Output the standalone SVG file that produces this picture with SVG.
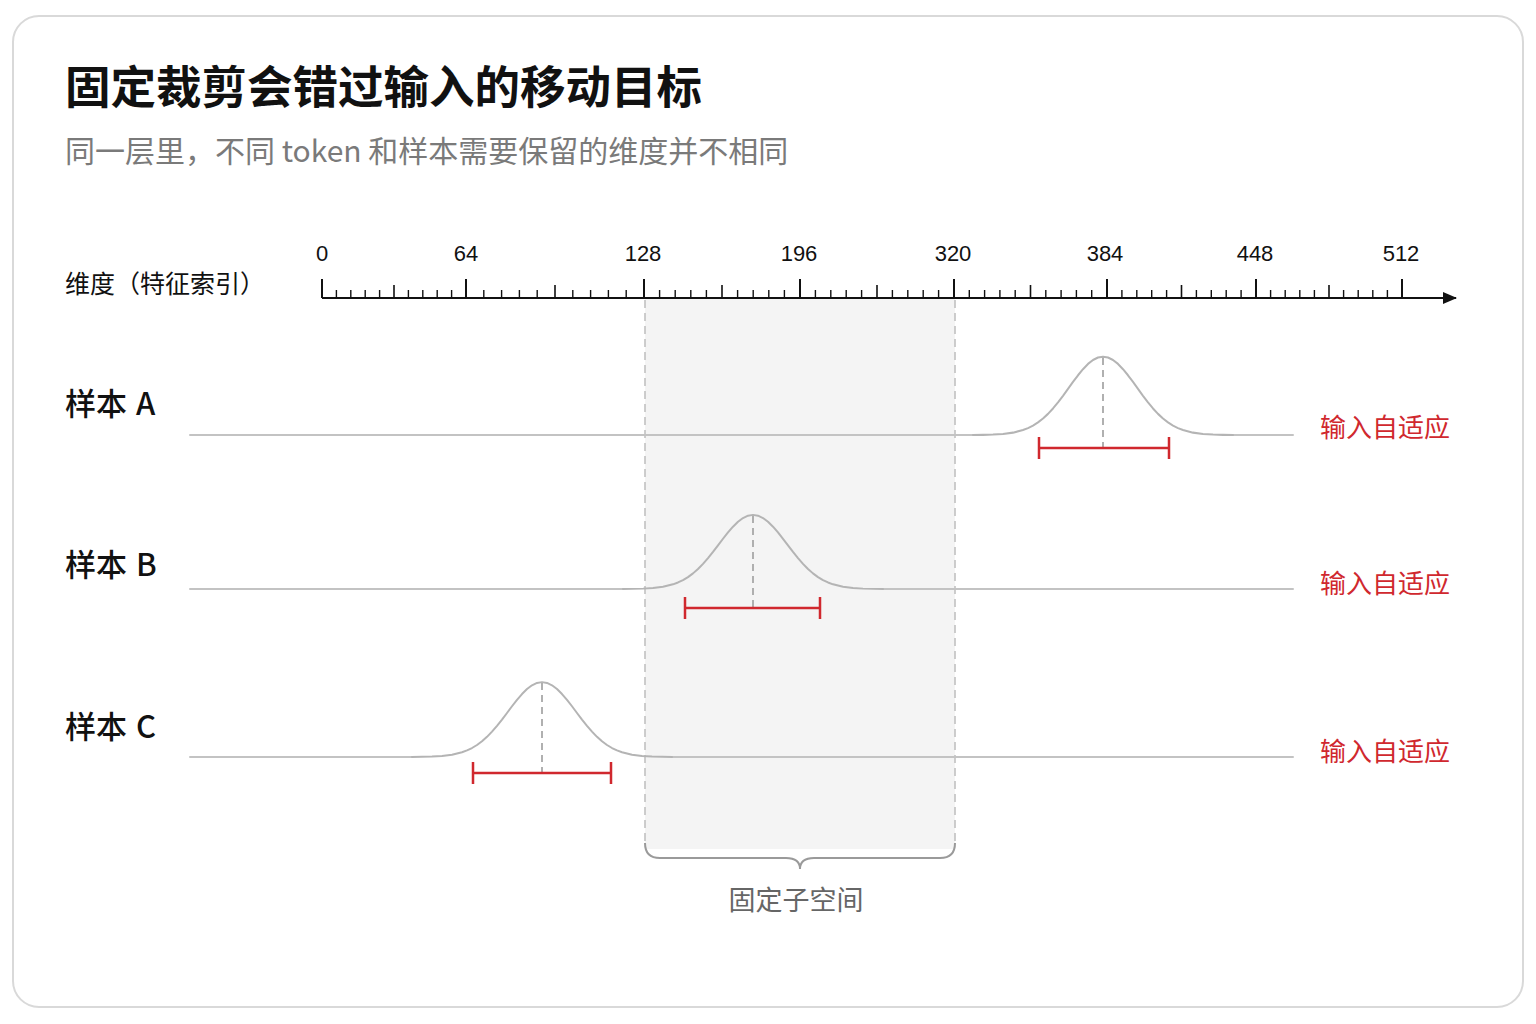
<svg xmlns="http://www.w3.org/2000/svg" xmlns:xlink="http://www.w3.org/1999/xlink" width="1536" height="1024" viewBox="0 0 1536 1024">
<style>
  .cjk { font-family: "Noto Sans CJK SC", "Noto Sans", sans-serif; }
  .num { font-family: "Liberation Sans", "Noto Sans", sans-serif; font-size: 22px; fill: #111; text-anchor: middle; }
  .title { font-size: 45.5px; font-weight: 700; fill: #111; }
  .sub { font-size: 30px; fill: #7a7a7a; }
  .lab { font-size: 31px; font-weight: 500; fill: #111; }
  .red { font-size: 26px; fill: #d0282e; }
  .base { fill: none; stroke: #c3c3c3; stroke-width: 2; stroke-linecap: round; stroke-linejoin: round; }
  .bump { fill: none; stroke: #b4b4b4; stroke-width: 2; stroke-linecap: round; stroke-linejoin: round; }
  .center { stroke: #a8a8a8; stroke-width: 1.8; stroke-dasharray: 7 5; }
  .bar { fill: none; stroke: #d0282e; stroke-width: 2.5; }
  .edge { stroke: #bdbdbd; stroke-width: 1.5; stroke-dasharray: 8 5; }
  .tick { stroke: #111; fill: none; }
</style>
<defs>
  <marker id="arrow" viewBox="0 0 14 12" refX="13" refY="6" markerWidth="14" markerHeight="12" markerUnits="userSpaceOnUse" orient="auto">
    <path d="M0,0 L14,6 L0,12 Z" fill="#111"/>
  </marker>
  <path id="g" d="M-130,0 L-120,-0.15 L-110,-0.4 L-100,-1 L-90,-2.3 L-80,-4.8 L-75,-6.7 L-70,-9.1 L-65,-12.2 L-60,-16 L-55,-20.5 L-50,-25.8 L-45,-31.7 L-40,-38 L-35,-44.7 L-30,-51.5 L-25,-58 L-20,-63.9 L-15,-69 L-10,-72.8 L-5,-75.2 L0,-76 L5,-75.2 L10,-72.8 L15,-69 L20,-63.9 L25,-58 L30,-51.5 L35,-44.7 L40,-38 L45,-31.7 L50,-25.8 L55,-20.5 L60,-16 L65,-12.2 L70,-9.1 L75,-6.7 L80,-4.8 L90,-2.3 L100,-1 L110,-0.4 L120,-0.15 L130,0"/>
</defs>

<rect x="0" y="0" width="1536" height="1024" fill="#ffffff"/>
<rect x="13" y="16" width="1510" height="991" rx="26" fill="#ffffff" stroke="#d9d9d9" stroke-width="2"/>

<g id="header">
  <text class="cjk title" x="65" y="104">固定裁剪会错过输入的移动目标</text>
  <text class="cjk sub" x="65" y="162">同一层里，不同 token 和样本需要保留的维度并不相同</text>
</g>

<g id="fixed-subspace">
  <rect x="645" y="298" width="310" height="551" fill="#f4f4f4"/>
  <line class="edge" x1="645" y1="300" x2="645" y2="845"/>
  <line class="edge" x1="955" y1="300" x2="955" y2="845"/>
  <path d="M645,843 Q645,858 660,858 H786 Q800,858 800,869 Q800,858 814,858 H940 Q955,858 955,843" fill="none" stroke="#9a9a9a" stroke-width="2"/>
  <text class="cjk" x="796" y="910" font-size="27" fill="#666" text-anchor="middle">固定子空间</text>
</g>

<g id="axis">
  <text class="cjk" x="65" y="293" font-size="25" fill="#111">维度（特征索引）</text>
  <line x1="322" y1="298" x2="1456" y2="298" stroke="#111" stroke-width="2" marker-end="url(#arrow)"/>
  <path class="tick" stroke-width="2" d="M322,279V298 M466,279V298 M644,279V298 M800,279V298 M954,279V298 M1107,279V298 M1256,279V298 M1402,279V298"/>
  <path class="tick" stroke-width="1.6" d="M394,285V298 M555,285V298 M722,285V298 M877,285V298 M1030.5,285V298 M1181.5,285V298 M1329,285V298"/>
  <path class="tick" stroke-width="1.4" d="M336.4,290V298 M350.8,290V298 M365.2,290V298 M379.6,290V298 M408.4,290V298 M422.8,290V298 M437.2,290V298 M451.6,290V298
    M483.8,290V298 M501.6,290V298 M519.4,290V298 M537.2,290V298 M572.8,290V298 M590.6,290V298 M608.4,290V298 M626.2,290V298
    M659.6,290V298 M675.2,290V298 M690.8,290V298 M706.4,290V298 M737.6,290V298 M753.2,290V298 M768.8,290V298 M784.4,290V298
    M815.4,290V298 M830.8,290V298 M846.2,290V298 M861.6,290V298 M892.4,290V298 M907.8,290V298 M923.2,290V298 M938.6,290V298
    M969.3,290V298 M984.6,290V298 M999.9,290V298 M1015.2,290V298 M1045.8,290V298 M1061.1,290V298 M1076.4,290V298 M1091.7,290V298
    M1121.9,290V298 M1136.8,290V298 M1151.7,290V298 M1166.6,290V298 M1196.4,290V298 M1211.3,290V298 M1226.2,290V298 M1241.1,290V298
    M1270.6,290V298 M1285.2,290V298 M1299.8,290V298 M1314.4,290V298 M1343.6,290V298 M1358.2,290V298 M1372.8,290V298 M1387.4,290V298"/>
  <text class="num" x="322" y="261">0</text>
  <text class="num" x="466" y="261">64</text>
  <text class="num" x="643" y="261">128</text>
  <text class="num" x="799" y="261">196</text>
  <text class="num" x="953" y="261">320</text>
  <text class="num" x="1105" y="261">384</text>
  <text class="num" x="1255" y="261">448</text>
  <text class="num" x="1401" y="261">512</text>
</g>

<g id="sample-a">
  <text class="cjk lab" x="65" y="415" word-spacing="2">样本 A</text>
  <line class="base" x1="190" y1="435" x2="973" y2="435"/>
  <line class="base" x1="1233" y1="435" x2="1293" y2="435"/>
  <use xlink:href="#g" href="#g" class="bump" transform="translate(1103,435) scale(1,1.03)"/>
  <line class="center" x1="1103" y1="358" x2="1103" y2="447"/>
  <path class="bar" d="M1039,437V459 M1039,448H1169 M1169,437V459"/>
  <text class="cjk red" x="1320" y="437">输入自适应</text>
</g>

<g id="sample-b">
  <text class="cjk lab" x="65" y="576" word-spacing="2">样本 B</text>
  <line class="base" x1="190" y1="589" x2="623" y2="589"/>
  <line class="base" x1="883" y1="589" x2="1293" y2="589"/>
  <use xlink:href="#g" href="#g" class="bump" transform="translate(753,589) scale(1,0.975)"/>
  <line class="center" x1="753" y1="516" x2="753" y2="607"/>
  <path class="bar" d="M685,597V619 M685,608H820 M820,597V619"/>
  <text class="cjk red" x="1320" y="593">输入自适应</text>
</g>

<g id="sample-c">
  <text class="cjk lab" x="65" y="738" word-spacing="2">样本 C</text>
  <line class="base" x1="190" y1="757" x2="412" y2="757"/>
  <line class="base" x1="672" y1="757" x2="1293" y2="757"/>
  <use xlink:href="#g" href="#g" class="bump" transform="translate(542,757) scale(1,0.985)"/>
  <line class="center" x1="542" y1="683" x2="542" y2="773"/>
  <path class="bar" d="M473,762V784 M473,773H611 M611,762V784"/>
  <text class="cjk red" x="1320" y="761">输入自适应</text>
</g>

<g id="connectors"></g>
</svg>
